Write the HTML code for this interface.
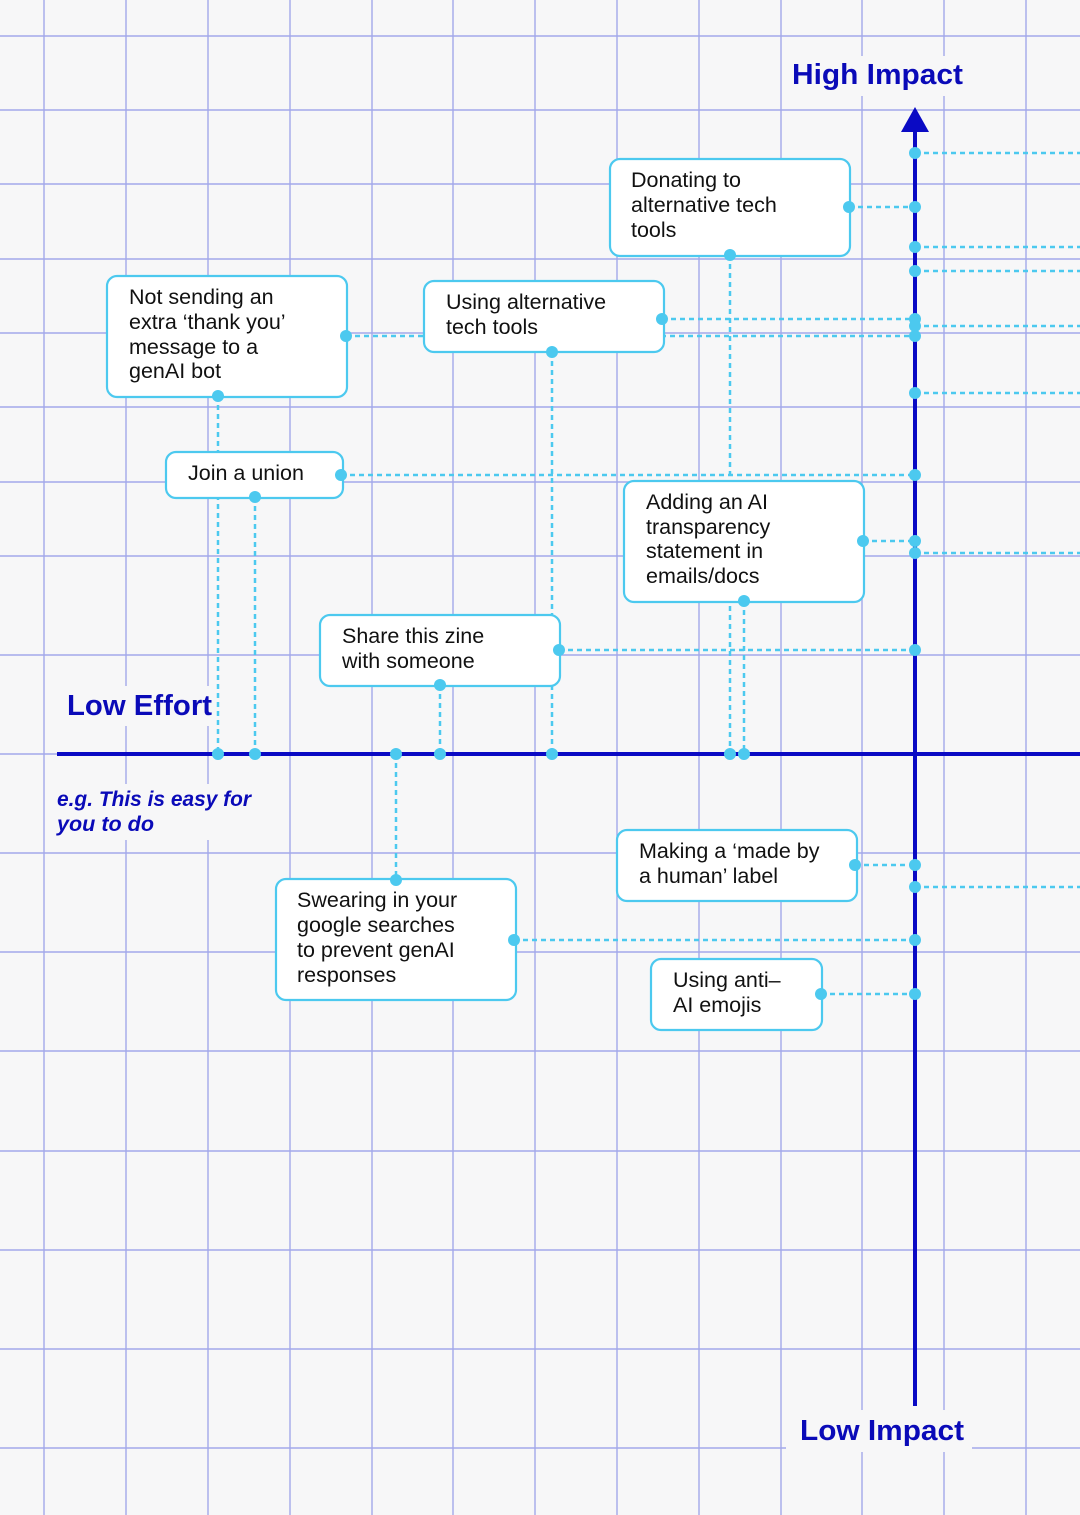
<!DOCTYPE html>
<html><head><meta charset="utf-8"><style>
html,body{margin:0;padding:0;background:#f7f7f8;}
svg{display:block;}
.t{font-family:"Liberation Sans",Arial,sans-serif;font-size:21.5px;fill:#111;}
.lab{font-family:"Liberation Sans",Arial,sans-serif;fill:#0a0ab8;}
</style></head><body>
<svg width="1080" height="1515" viewBox="0 0 1080 1515" xmlns="http://www.w3.org/2000/svg">
<rect width="1080" height="1515" fill="#f7f7f8"/>
<g stroke="#a3a8ea" stroke-width="1.4">
<line x1="44" y1="0" x2="44" y2="1515"/><line x1="126" y1="0" x2="126" y2="1515"/><line x1="208" y1="0" x2="208" y2="1515"/><line x1="290" y1="0" x2="290" y2="1515"/><line x1="372" y1="0" x2="372" y2="1515"/><line x1="453" y1="0" x2="453" y2="1515"/><line x1="535" y1="0" x2="535" y2="1515"/><line x1="617" y1="0" x2="617" y2="1515"/><line x1="699" y1="0" x2="699" y2="1515"/><line x1="781" y1="0" x2="781" y2="1515"/><line x1="862" y1="0" x2="862" y2="1515"/><line x1="944" y1="0" x2="944" y2="1515"/><line x1="1026" y1="0" x2="1026" y2="1515"/>
<line x1="0" y1="36" x2="1080" y2="36"/><line x1="0" y1="110" x2="1080" y2="110"/><line x1="0" y1="184" x2="1080" y2="184"/><line x1="0" y1="259" x2="1080" y2="259"/><line x1="0" y1="333" x2="1080" y2="333"/><line x1="0" y1="407" x2="1080" y2="407"/><line x1="0" y1="482" x2="1080" y2="482"/><line x1="0" y1="556" x2="1080" y2="556"/><line x1="0" y1="655" x2="1080" y2="655"/><line x1="0" y1="754" x2="1080" y2="754"/><line x1="0" y1="853" x2="1080" y2="853"/><line x1="0" y1="952" x2="1080" y2="952"/><line x1="0" y1="1051" x2="1080" y2="1051"/><line x1="0" y1="1151" x2="1080" y2="1151"/><line x1="0" y1="1250" x2="1080" y2="1250"/><line x1="0" y1="1349" x2="1080" y2="1349"/><line x1="0" y1="1448" x2="1080" y2="1448"/>
</g>
<g fill="#f7f7f8">
<rect x="786" y="56" width="184" height="40"/>
<rect x="60" y="686" width="160" height="40"/>
<rect x="52" y="784" width="206" height="56"/>
<rect x="786" y="1410" width="186" height="42"/>
</g>
<line x1="57" y1="754" x2="1080" y2="754" stroke="#0a0ac4" stroke-width="4"/>
<line x1="915" y1="128" x2="915" y2="1406" stroke="#0a0ac4" stroke-width="4"/>
<polygon points="915,107 901,132 929,132" fill="#0a0ac4"/>
<g stroke="#4cc9ef" stroke-width="2.5" stroke-dasharray="5 4" fill="none">
<line x1="346" y1="336" x2="915" y2="336"/>
<line x1="218" y1="396" x2="218" y2="754"/>
<line x1="662" y1="319" x2="915" y2="319"/>
<line x1="552" y1="352" x2="552" y2="754"/>
<line x1="849" y1="207" x2="915" y2="207"/>
<line x1="730" y1="255" x2="730" y2="754"/>
<line x1="341" y1="475" x2="915" y2="475"/>
<line x1="255" y1="497" x2="255" y2="754"/>
<line x1="863" y1="541" x2="915" y2="541"/>
<line x1="744" y1="601" x2="744" y2="754"/>
<line x1="559" y1="650" x2="915" y2="650"/>
<line x1="440" y1="685" x2="440" y2="754"/>
<line x1="396" y1="754" x2="396" y2="880"/>
<line x1="514" y1="940" x2="915" y2="940"/>
<line x1="855" y1="865" x2="915" y2="865"/>
<line x1="821" y1="994" x2="915" y2="994"/>
<line x1="915" y1="153" x2="1080" y2="153"/>
<line x1="915" y1="247" x2="1080" y2="247"/>
<line x1="915" y1="271" x2="1080" y2="271"/>
<line x1="915" y1="326" x2="1080" y2="326"/>
<line x1="915" y1="393" x2="1080" y2="393"/>
<line x1="915" y1="553" x2="1080" y2="553"/>
<line x1="915" y1="887" x2="1080" y2="887"/>
</g>
<g fill="#fff" stroke="#4cc9ef" stroke-width="2.2">
<rect x="107" y="276" width="240" height="121" rx="10"/>
<rect x="424" y="281" width="240" height="71" rx="10"/>
<rect x="610" y="159" width="240" height="97" rx="10"/>
<rect x="166" y="452" width="177" height="46" rx="10"/>
<rect x="624" y="481" width="240" height="121" rx="10"/>
<rect x="320" y="615" width="240" height="71" rx="10"/>
<rect x="276" y="879" width="240" height="121" rx="10"/>
<rect x="617" y="830" width="240" height="71" rx="10"/>
<rect x="651" y="959" width="171" height="71" rx="10"/>
</g>
<g fill="#4cc9ef">
<circle cx="346" cy="336" r="6"/><circle cx="218" cy="396" r="6"/><circle cx="662" cy="319" r="6"/><circle cx="552" cy="352" r="6"/>
<circle cx="849" cy="207" r="6"/><circle cx="730" cy="255" r="6"/><circle cx="341" cy="475" r="6"/><circle cx="255" cy="497" r="6"/>
<circle cx="863" cy="541" r="6"/><circle cx="744" cy="601" r="6"/><circle cx="559" cy="650" r="6"/><circle cx="440" cy="685" r="6"/>
<circle cx="396" cy="880" r="6"/><circle cx="514" cy="940" r="6"/><circle cx="855" cy="865" r="6"/><circle cx="821" cy="994" r="6"/>
<circle cx="218" cy="754" r="6"/><circle cx="255" cy="754" r="6"/><circle cx="396" cy="754" r="6"/><circle cx="440" cy="754" r="6"/><circle cx="552" cy="754" r="6"/><circle cx="730" cy="754" r="6"/><circle cx="744" cy="754" r="6"/>
<circle cx="915" cy="153" r="6"/><circle cx="915" cy="207" r="6"/><circle cx="915" cy="247" r="6"/><circle cx="915" cy="271" r="6"/><circle cx="915" cy="319" r="6"/><circle cx="915" cy="326" r="6"/><circle cx="915" cy="336" r="6"/><circle cx="915" cy="393" r="6"/><circle cx="915" cy="475" r="6"/><circle cx="915" cy="541" r="6"/><circle cx="915" cy="553" r="6"/><circle cx="915" cy="650" r="6"/><circle cx="915" cy="865" r="6"/><circle cx="915" cy="887" r="6"/><circle cx="915" cy="940" r="6"/><circle cx="915" cy="994" r="6"/>
</g>
<g class="t">
<text x="129" y="304">Not sending an</text><text x="129" y="329">extra ‘thank you’</text><text x="129" y="354">message to a</text><text x="129" y="378">genAI bot</text>
<text x="446" y="309">Using alternative</text><text x="446" y="334">tech tools</text>
<text x="631" y="187">Donating to</text><text x="631" y="212">alternative tech</text><text x="631" y="237">tools</text>
<text x="188" y="480">Join a union</text>
<text x="646" y="509">Adding an AI</text><text x="646" y="534">transparency</text><text x="646" y="558">statement in</text><text x="646" y="583">emails/docs</text>
<text x="342" y="643">Share this zine</text><text x="342" y="668">with someone</text>
<text x="297" y="907">Swearing in your</text><text x="297" y="932">google searches</text><text x="297" y="957">to prevent genAI</text><text x="297" y="982">responses</text>
<text x="639" y="858">Making a ‘made by</text><text x="639" y="883">a human’ label</text>
<text x="673" y="987">Using anti–</text><text x="673" y="1012">AI emojis</text>
</g>
<text class="lab" x="792" y="84" font-size="29" font-weight="bold" textLength="171" lengthAdjust="spacingAndGlyphs">High Impact</text>
<text class="lab" x="67" y="715" font-size="29" font-weight="bold" textLength="145" lengthAdjust="spacingAndGlyphs">Low Effort</text>
<text class="lab" x="800" y="1440" font-size="29" font-weight="bold" textLength="164" lengthAdjust="spacingAndGlyphs">Low Impact</text>
<text class="lab" x="57" y="806" font-size="21" font-style="italic" font-weight="bold" textLength="194" lengthAdjust="spacingAndGlyphs">e.g. This is easy for</text>
<text class="lab" x="57" y="831" font-size="21" font-style="italic" font-weight="bold" textLength="97" lengthAdjust="spacingAndGlyphs">you to do</text>
</svg>
</body></html>
